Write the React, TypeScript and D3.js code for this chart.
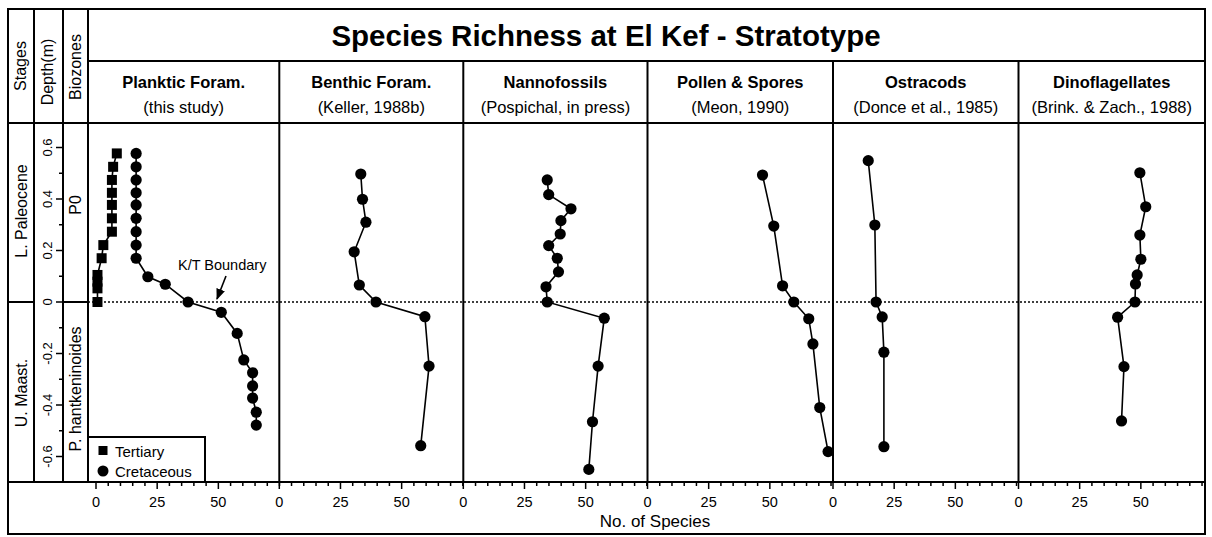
import React from "react";
import * as d3 from "d3";

// ---------- data ----------
const panelNames = ["Planktic Foram.", "Benthic Foram.", "Nannofossils", "Pollen & Spores", "Ostracods", "Dinoflagellates"];
const panelSources = ["(this study)", "(Keller, 1988b)", "(Pospichal, in press)", "(Meon, 1990)", "(Donce et al., 1985)", "(Brink. & Zach., 1988)"];

const tertiaryDepth = [0.577, 0.525, 0.474, 0.424, 0.377, 0.325, 0.273, 0.221, 0.17, 0.105, 0.079, 0.053, 0];
const tertiarySpecies = [8.5, 7, 6.5, 6.5, 6.5, 6.5, 6.5, 3, 2.3, 0.6, 0.6, 0.6, 0.6];

const planktDepth = [0.577, 0.525, 0.474, 0.424, 0.377, 0.325, 0.273, 0.221, 0.17, 0.098, 0.069, 0, -0.04, -0.122, -0.225, -0.275, -0.326, -0.373, -0.428, -0.478];
const planktSpecies = [16.4, 16.4, 16.4, 16.4, 16.4, 16.4, 16.4, 16.4, 16.4, 21.2, 28.3, 37.6, 51.2, 57.7, 60.4, 64, 64, 64, 65.5, 65.5];

const benthicDepth = [0.497, 0.399, 0.31, 0.195, 0.066, 0, -0.057, -0.249, -0.558];
const benthicSpecies = [33.3, 34, 35.4, 30.6, 32.7, 39.5, 59.5, 61.2, 57.8];

const nannoDepth = [0.474, 0.417, 0.362, 0.316, 0.264, 0.219, 0.17, 0.117, 0.059, 0, -0.063, -0.249, -0.465, -0.65];
const nannoSpecies = [34.3, 34.9, 44, 39.9, 39.6, 34.9, 38.4, 38.9, 33.8, 34.3, 57.6, 55.1, 52.8, 51.3];

const pollenDepth = [0.493, 0.295, 0.063, 0, -0.065, -0.163, -0.41, -0.581];
const pollenSpecies = [47, 51.6, 55.2, 59.8, 65.9, 67.6, 70.4, 73.8];

const ostraDepth = [0.549, 0.299, 0, -0.058, -0.195, -0.562];
const ostraSpecies = [14.4, 17.1, 17.6, 20.1, 20.8, 20.8];

const dinoDepth = [0.502, 0.37, 0.26, 0.166, 0.105, 0.07, 0, -0.059, -0.251, -0.462];
const dinoSpecies = [49.6, 52, 49.6, 50, 48.5, 47.8, 47.6, 40.5, 43.1, 42.1];

const xTickValues = [0, 5, 10, 15, 20, 25, 30, 35, 40, 45, 50, 55, 60, 65, 70, 75];
const xTickLabels = [0, 25, 50];
const depthTicks = [0.6, 0.5, 0.4, 0.3, 0.2, 0.1, 0, -0.1, -0.2, -0.3, -0.4, -0.5, -0.6];
const depthLabels = [0.6, 0.4, 0.2, 0, -0.2, -0.4, -0.6];

const circleSeries = [
  { depth: planktDepth, species: planktSpecies },
  { depth: benthicDepth, species: benthicSpecies },
  { depth: nannoDepth, species: nannoSpecies },
  { depth: pollenDepth, species: pollenSpecies },
  { depth: ostraDepth, species: ostraSpecies },
  { depth: dinoDepth, species: dinoSpecies },
];

// ---------- layout ----------
const FONT = "'Liberation Sans', Arial, Helvetica, sans-serif";
const L = 8, T = 9, R = 1205, B = 534;
const colStages = 34, colDepth = 63, colBio = 88;
const titleLine = 61, headLine = 123, axisY = 482;
const panelEdges = [88, 279.3, 463.3, 647.5, 833, 1018.5, 1205];
const panelZero = [96, 279.3, 463.3, 647.5, 833, 1018.5];
const pxPerUnit = 2.447;

const y = d3.scaleLinear().domain([0, 0.6]).range([302, 302 - 0.6 * 257.5]);
const xScales = panelZero.map((z) => d3.scaleLinear().domain([0, 75]).range([z, z + 75 * pxPerUnit]));

export default function App() {
  const fmtDepth = (v: number) => (v === 0 ? "0" : String(v));
  return (
    <svg width={1212} height={537} style={{ position: "absolute", left: 0, top: 0, background: "#fff" }} fontFamily={FONT}>
      <rect x={0} y={0} width={1212} height={537} fill="#fff" />
      {/* outer frame */}
      <rect x={L} y={T} width={R - L} height={B - T} fill="none" stroke="#000" strokeWidth={2} />
      {/* column lines */}
      {[colStages, colDepth, colBio].map((cx) => (
        <line key={cx} x1={cx} x2={cx} y1={T} y2={axisY} stroke="#000" strokeWidth={2} />
      ))}
      <line x1={colBio} x2={R} y1={titleLine} y2={titleLine} stroke="#000" strokeWidth={2} />
      <line x1={L} x2={R} y1={headLine} y2={headLine} stroke="#000" strokeWidth={2} />
      <line x1={L} x2={R} y1={axisY} y2={axisY} stroke="#000" strokeWidth={2} />
      {panelEdges.slice(1, -1).map((px) => (
        <line key={px} x1={px} x2={px} y1={titleLine} y2={axisY} stroke="#000" strokeWidth={2} />
      ))}

      {/* title */}
      <text x={606} y={46} textAnchor="middle" fontSize={29.5} fontWeight="bold">Species Richness at El Kef - Stratotype</text>

      {/* left headers */}
      <text transform={`translate(26,66) rotate(-90)`} textAnchor="middle" fontSize={16}>Stages</text>
      <text transform={`translate(53,72) rotate(-90)`} textAnchor="middle" fontSize={16}>Depth(m)</text>
      <text transform={`translate(81,67) rotate(-90)`} textAnchor="middle" fontSize={16}>Biozones</text>

      {/* stage / biozone labels */}
      <line x1={L} x2={colStages} y1={y(0)} y2={y(0)} stroke="#000" strokeWidth={2} />
      <line x1={colDepth} x2={colBio} y1={y(0)} y2={y(0)} stroke="#000" strokeWidth={2} />
      <text transform={`translate(27,211) rotate(-90)`} textAnchor="middle" fontSize={16}>L. Paleocene</text>
      <text transform={`translate(27,393) rotate(-90)`} textAnchor="middle" fontSize={16}>U. Maast.</text>
      <text transform={`translate(81,205) rotate(-90)`} textAnchor="middle" fontSize={16}>P0</text>
      <text transform={`translate(81,389) rotate(-90)`} textAnchor="middle" fontSize={16}>P. hantkeninoides</text>

      {/* depth axis */}
      {depthTicks.map((d) => {
        const major = depthLabels.some((v) => Math.abs(v - d) < 1e-9);
        return (
          <line key={d} x1={colDepth} x2={colDepth - (major ? 7 : 4)} y1={y(d)} y2={y(d)} stroke="#000" strokeWidth={1.5} />
        );
      })}
      {depthLabels.map((d) => (
        <text key={d} transform={`translate(52,${y(d)}) rotate(-90)`} textAnchor="middle" fontSize={13}>{fmtDepth(d)}</text>
      ))}

      {/* K/T dotted line */}
      <line x1={colBio} x2={R} y1={y(0)} y2={y(0)} stroke="#000" strokeWidth={1.6} strokeDasharray="2,2" />

      {/* panel headers */}
      {panelNames.map((n, i) => {
        const cx = (panelEdges[i] + panelEdges[i + 1]) / 2;
        return (
          <g key={n}>
            <text x={cx} y={88} textAnchor="middle" fontSize={16.5} fontWeight="bold">{n}</text>
            <text x={cx} y={113} textAnchor="middle" fontSize={16.5}>{panelSources[i]}</text>
          </g>
        );
      })}

      {/* x axes */}
      {xScales.map((xs, i) => (
        <g key={i}>
          {xTickValues.map((v) => {
            const major = xTickLabels.includes(v);
            return <line key={v} x1={xs(v)} x2={xs(v)} y1={axisY} y2={axisY + (major ? 7 : 4)} stroke="#000" strokeWidth={1.5} />;
          })}
          {xTickLabels.map((v) => (
            <text key={v} x={xs(v)} y={507} textAnchor="middle" fontSize={14.5}>{v}</text>
          ))}
        </g>
      ))}
      <text x={655} y={527} textAnchor="middle" fontSize={17}>No. of Species</text>

      {/* data: tertiary squares */}
      {(() => {
        const xs = xScales[0];
        const line = d3.line<number>().x((_, k) => xs(tertiarySpecies[k])).y((d) => y(d));
        return (
          <g>
            <path d={line(tertiaryDepth) || ""} fill="none" stroke="#000" strokeWidth={1.6} />
            {tertiaryDepth.map((d, k) => (
              <rect key={k} x={xs(tertiarySpecies[k]) - 5} y={y(d) - 5} width={10} height={10} fill="#000" />
            ))}
          </g>
        );
      })()}

      {/* data: circle series */}
      {circleSeries.map((s, i) => {
        const xs = xScales[i];
        const line = d3.line<number>().x((_, k) => xs(s.species[k])).y((d) => y(d));
        return (
          <g key={i}>
            <path d={line(s.depth) || ""} fill="none" stroke="#000" strokeWidth={1.6} />
            {s.depth.map((d, k) => (
              <circle key={k} cx={xs(s.species[k])} cy={y(d)} r={5.6} fill="#000" />
            ))}
          </g>
        );
      })}

      {/* K/T annotation */}
      <defs>
        <marker id="arrow" viewBox="0 0 10 10" refX={9} refY={5} markerWidth={7} markerHeight={7} orient="auto-start-reverse">
          <path d="M0,1 L10,5 L0,9 Z" fill="#000" />
        </marker>
      </defs>
      <text x={178} y={270} fontSize={14.5}>K/T Boundary</text>
      <line x1={226} x2={217} y1={276} y2={299} stroke="#000" strokeWidth={1.6} markerEnd="url(#arrow)" />

      {/* legend */}
      <rect x={colBio} y={437} width={117} height={axisY - 437} fill="#fff" stroke="#000" strokeWidth={2} />
      <rect x={98.5} y={446} width={9} height={9} fill="#000" />
      <text x={115} y={457} fontSize={15}>Tertiary</text>
      <circle cx={103} cy={471} r={5.5} fill="#000" />
      <text x={115} y={477} fontSize={15}>Cretaceous</text>
    </svg>
  );
}
